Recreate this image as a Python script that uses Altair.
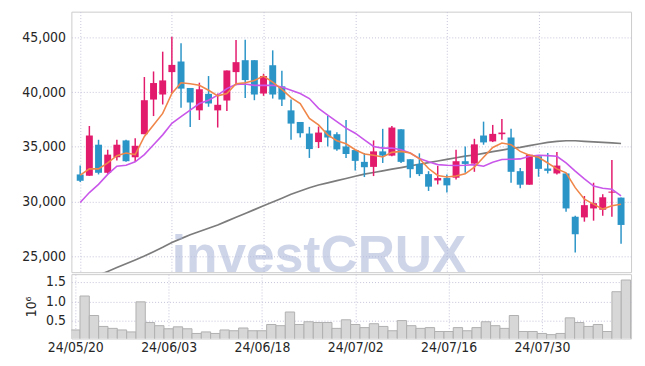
import altair as alt
import pandas as pd

tick_idx = [0, 10, 20, 30, 40, 50]
tick_labels = ["24/05/20", "24/06/03", "24/06/18", "24/07/02", "24/07/16", "24/07/30"]

opens = [32470, 32350, 35190, 32620, 34040, 35580, 34040, 36150, 39320, 39780,
         41830, 42800, 40380, 38330, 39840, 38330, 39230, 41830, 42920, 42920,
         39870, 42460, 40530, 38330, 37270, 36210, 35430, 36480, 36150, 35030,
         34700, 33620, 33160, 34580, 34190, 36600, 33860, 33430, 32500, 31920,
         32140, 32170, 33680, 33460, 36030, 35490, 36150, 35850, 32770, 31530,
         34130, 33010, 32560, 32560, 28600, 28540, 29360, 29240, 30800, 30350]
highs = [33280, 36900, 35640, 34730, 35640, 35640, 35790, 41380, 41890, 43700,
         45060, 44460, 40380, 40860, 41470, 39870, 41980, 44760, 44790, 42920,
         41680, 43820, 41950, 39320, 37270, 36820, 36850, 37840, 36330, 37450,
         34700, 34430, 35580, 36640, 36910, 36600, 33860, 34400, 32770, 33250,
         32470, 34730, 35030, 35730, 37300, 37000, 37540, 36640, 33070, 34280,
         34130, 34430, 34520, 32560, 28690, 30500, 31710, 30660, 33800, 30350]
lows = [31770, 32350, 32470, 32530, 33740, 33620, 33620, 36150, 37810, 38870,
        39930, 38570, 36820, 37450, 38660, 36760, 38270, 40620, 39470, 39260,
        39660, 39410, 38720, 35640, 35850, 33980, 34880, 35030, 34640, 33980,
        32830, 32230, 32320, 33520, 34130, 33520, 32170, 32320, 30960, 31560,
        30810, 32010, 32620, 32710, 35190, 35430, 35640, 31710, 31200, 31530,
        32260, 32560, 32470, 29060, 25340, 28150, 28240, 28690, 28600, 26130]
closes = [31890, 36030, 32620, 34280, 35190, 33680, 35090, 39260, 40830, 41070,
          42490, 40320, 39050, 40260, 38960, 38840, 41980, 42740, 41100, 39780,
          41470, 39780, 39320, 37120, 36240, 34790, 36300, 35850, 34760, 34340,
          33710, 33130, 34580, 34190, 36760, 33620, 32950, 32500, 31350, 32140,
          31470, 33680, 33430, 35220, 35400, 36180, 36300, 32710, 31530, 34280,
          32980, 32800, 33280, 29360, 27000, 29660, 29840, 30380, 30900, 27850]
volumes = [0.27, 1.14, 0.64, 0.36, 0.31, 0.27, 0.22, 0.99, 0.46, 0.38,
           0.30, 0.35, 0.30, 0.18, 0.22, 0.18, 0.27, 0.25, 0.32, 0.25,
           0.25, 0.41, 0.38, 0.73, 0.41, 0.48, 0.46, 0.46, 0.31, 0.53,
           0.41, 0.33, 0.43, 0.36, 0.25, 0.51, 0.38, 0.31, 0.33, 0.23,
           0.23, 0.33, 0.25, 0.33, 0.48, 0.38, 0.31, 0.64, 0.23, 0.23,
           0.18, 0.15, 0.18, 0.58, 0.46, 0.36, 0.41, 0.23, 1.25, 1.55]
ma_short = [32410, 32980, 32980, 33520, 34190, 34430, 34280, 35940, 37000, 38050,
            39870, 40860, 40770, 40620, 40170, 39660, 39870, 40770, 40860, 41070,
            41470, 40920, 40250, 39500, 38960, 37600, 37000, 36090, 35550, 35280,
            34730, 34340, 34220, 34070, 34490, 34580, 34430, 33920, 33010, 32380,
            32230, 32320, 32530, 33130, 34040, 34940, 35340, 35190, 34580, 34220,
            34040, 33520, 32980, 32620, 31260, 30200, 29750, 29300, 29600, 29750]
ma_mid = [29900, 30810, 31560, 32470, 33220, 33310, 33620, 34280, 35190, 36090,
          37150, 37750, 38360, 38960, 39260, 39720, 40320, 40710, 40740, 40620,
          40620, 40620, 40470, 40170, 39870, 39410, 38510, 37900, 37300, 36700,
          36240, 35640, 35030, 34880, 34880, 34730, 34430, 33920, 33620, 33370,
          33310, 33280, 33310, 33370, 33220, 33590, 33830, 33860, 33890, 34130,
          34220, 34190, 34130, 33520, 32770, 32070, 31410, 31200, 31110, 30500]
ma_long = [22500, 22900, 23250, 23600, 23950, 24300, 24650, 25000, 25400, 25800,
           26250, 26600, 26950, 27250, 27550, 27850, 28200, 28550, 28900, 29250,
           29600, 29950, 30300, 30650, 30950, 31250, 31500, 31700, 31900, 32100,
           32300, 32500, 32650, 32800, 32950, 33100, 33250, 33400, 33550, 33700,
           33850, 34000, 34150, 34250, 34400, 34550, 34700, 34850, 34950, 35100,
           35250, 35400, 35500, 35550, 35550, 35500, 35450, 35400, 35350, 35300]

df = pd.DataFrame({
    "i": list(range(len(opens))),
    "open": opens, "high": highs, "low": lows, "close": closes,
    "vol": volumes, "ma5": ma_short, "ma10": ma_mid, "ma120": ma_long,
})

PINK = "#e31b6d"
BLUE = "#2c95c8"
LABEL_FONT = "'DejaVu Sans Condensed', 'Liberation Sans', sans-serif"
GRID = "#c3c3da"
TEXT = "#262626"

xdom = [-0.42, 59.55]
x_price = alt.X("i:Q", scale=alt.Scale(domain=xdom, nice=False, zero=False),
                axis=alt.Axis(values=tick_idx, labels=False, ticks=False, domain=False,
                              title=None, grid=True))
y_scale = alt.Scale(domain=[23530, 47360], nice=False, zero=False)
y_axis = alt.Axis(values=[25000, 30000, 35000, 40000, 45000],
                  labelExpr="format(datum.value, ',')", title=None,
                  ticks=False, domain=False, labelPadding=6, minExtent=58,
                  labelFont=LABEL_FONT, labelFontSize=14, labelColor=TEXT)

base = alt.Chart(df)
color = alt.condition("datum.close >= datum.open", alt.value(PINK), alt.value(BLUE))

long_line = base.mark_line(color="#7c7c7c", strokeWidth=1.7, clip=True).encode(
    x=x_price, y=alt.Y("ma120:Q", scale=y_scale, axis=y_axis))
watermark = base.transform_filter("datum.i == 0").mark_text(
    text="investCRUX", font="Liberation Sans", fontWeight="bold", fontSize=52,
    color="#a8b3d8", opacity=0.55, baseline="alphabetic", align="center", clip=True
).encode(x=alt.value(250), y=alt.value(263))
wick = base.mark_rule(strokeWidth=1.5).encode(
    x=x_price, y=alt.Y("low:Q", scale=y_scale, axis=y_axis), y2="high:Q", color=color)
body = base.mark_bar(size=7).encode(
    x=x_price, y=alt.Y("open:Q", scale=y_scale, axis=y_axis), y2="close:Q", color=color)
mid_line = base.mark_line(color="#c957ea", strokeWidth=1.6, clip=True).encode(
    x=x_price, y=alt.Y("ma10:Q", scale=y_scale, axis=y_axis))
short_line = base.mark_line(color="#f0874a", strokeWidth=1.6, clip=True).encode(
    x=x_price, y=alt.Y("ma5:Q", scale=y_scale, axis=y_axis))

price = alt.layer(long_line, watermark, wick, body, mid_line, short_line).properties(
    width=565, height=263)

label_expr = "[" + ",".join("'" + t + "'" for t in tick_labels) + "][round(datum.value/10)]"
volume = base.transform_calculate(
    left="datum.i - 0.5", right="datum.i + 0.5"
).mark_bar(color="#d7d7d7", stroke="#b0b0b0", strokeWidth=1, clip=True).encode(
    x=alt.X("left:Q", scale=alt.Scale(domain=xdom, nice=False, zero=False),
            axis=alt.Axis(values=tick_idx, labelExpr=label_expr, ticks=False, domain=False,
                          title=None, grid=True, labelPadding=2, labelFont=LABEL_FONT,
                          labelFontSize=14, labelColor=TEXT)),
    x2="right:Q",
    y=alt.Y("vol:Q", scale=alt.Scale(domain=[0.05, 1.70], nice=False, zero=False),
            axis=alt.Axis(values=[0.5, 1.0, 1.5], format=".1f", title="10⁶",
                          ticks=False, domain=False, labelPadding=6,
                          labelFont=LABEL_FONT, labelFontSize=14, labelColor=TEXT,
                          titleFont=LABEL_FONT, titleFontSize=14, titleFontWeight="normal",
                          titleColor=TEXT, titlePadding=7)),
    y2=alt.datum(0),
).properties(width=565, height=65)

chart = alt.vconcat(price, volume, spacing=0).properties(
    padding={"left": 5, "top": 1, "right": 5, "bottom": 5}
).configure_view(stroke="#cbcbcb").configure_axis(
    gridColor=GRID, gridDash=[1, 2], gridWidth=1
)

chart.save("out.html", embed_options={"renderer": "svg", "actions": False})
